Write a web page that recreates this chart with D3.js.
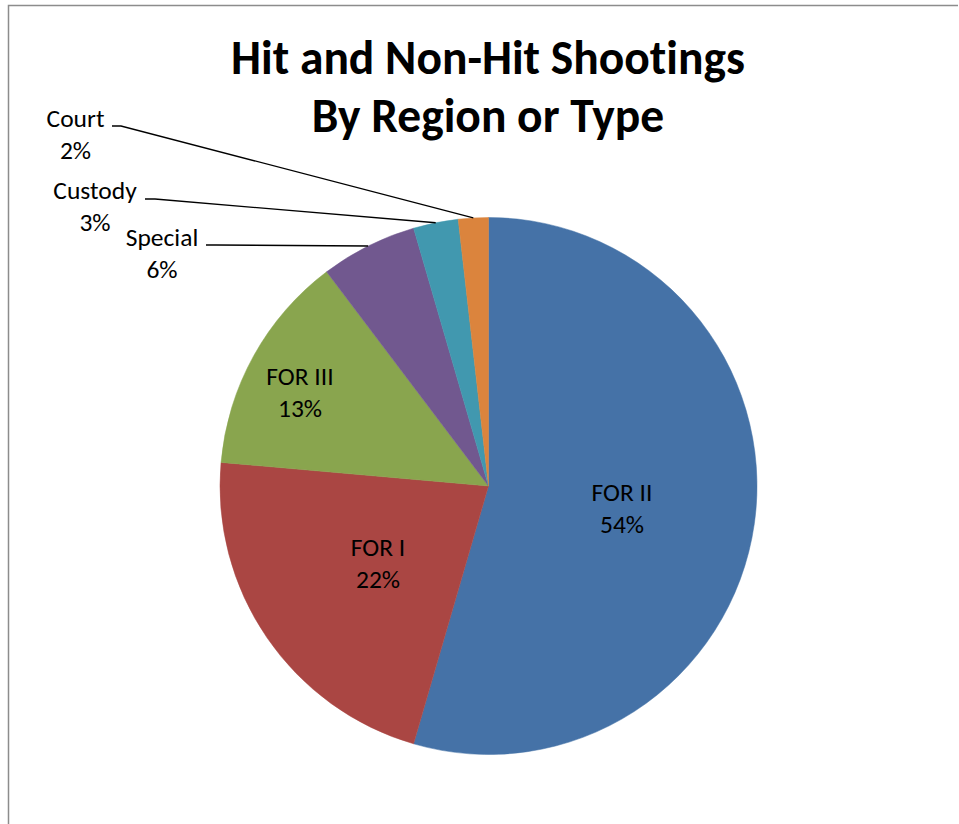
<!DOCTYPE html>
<html>
<head>
<meta charset="utf-8">
<script src="https://cdn.jsdelivr.net/npm/d3@7"></script>
<style>
html,body{margin:0;padding:0;background:#fff;}
svg{display:block;}
text{font-variant-ligatures:none;font-feature-settings:"liga" 0;}
</style>
</head>
<body>
<svg id="chart" width="959" height="824"></svg>
<script>
const categories = ["FOR II", "FOR I", "FOR III", "Special", "Custody", "Court"];
const values = [54.5, 21.9, 13.3, 5.8, 2.7, 1.8];
const pctLabels = ["54%", "22%", "13%", "6%", "3%", "2%"];
const colors = ["#4572A7", "#AA4643", "#89A54E", "#71588F", "#4198AF", "#DB843D"];
const titleLines = ["Hit and Non-Hit Shootings", "By Region or Type"];

const svg = d3.select("#chart");
const font = "Carlito, Calibri, Lato, 'Open Sans', sans-serif";

// frame
svg.append("path")
  .attr("d", "M8.5,824 L8.5,5.5 L958,5.5")
  .attr("fill", "none").attr("stroke", "#8c8c8c").attr("stroke-width", 1.5);

// title
svg.append("text").attr("x", 488).attr("y", 74)
  .attr("text-anchor", "middle").attr("font-family", font)
  .attr("font-weight", "bold").attr("font-size", 47.5).text(titleLines[0]);
svg.append("text").attr("x", 488).attr("y", 132)
  .attr("text-anchor", "middle").attr("font-family", font)
  .attr("font-weight", "bold").attr("font-size", 47.5).text(titleLines[1]);

const cx = 488.5, cy = 486, r = 268.5;
const g = svg.append("g").attr("transform", `translate(${cx},${cy})`);

const pie = d3.pie().sort(null).value(d => d.v);
const data = categories.map((c, i) => ({c, v: values[i], p: pctLabels[i], col: colors[i]}));
const arcs = pie(data);
const arc = d3.arc().innerRadius(0).outerRadius(r);

g.selectAll("path.slice").data(arcs).enter().append("path")
  .attr("class", "slice")
  .attr("d", arc)
  .attr("fill", d => d.data.col)
  .attr("stroke", d => d.data.col).attr("stroke-width", 0.5);

// inside labels
const inside = {"FOR II": [622, 492], "FOR I": [378, 547], "FOR III": [300, 376]};
// outside labels: text center x, first line center y, leader start
const outside = {
  "Court": {x: 75.5, y: 118, lx: 112, ly: 126, hx: 121},
  "Custody": {x: 95, y: 190, lx: 145, ly: 199, hx: 155},
  "Special": {x: 162, y: 237, lx: 206, ly: 245, hx: 216}
};

function label(x, y, name, pct) {
  const t = svg.append("text").attr("text-anchor", "middle")
    .attr("font-family", font).attr("font-size", 25.5).attr("fill", "#000");
  t.append("tspan").attr("x", x).attr("y", y).attr("dy", "0.35em").text(name);
  t.append("tspan").attr("x", x).attr("y", y + 32).attr("dy", "0.35em").text(pct);
}

arcs.forEach(a => {
  const name = a.data.c;
  if (inside[name]) {
    const [x, y] = inside[name];
    label(x, y, name, a.data.p);
  } else {
    const o = outside[name];
    label(o.x, o.y, name, a.data.p);
    const mid = (a.startAngle + a.endAngle) / 2;
    const ex = cx + r * Math.sin(mid), ey = cy - r * Math.cos(mid);
    svg.append("path")
      .attr("d", `M${o.lx},${o.ly} L${o.hx},${o.ly} L${ex},${ey}`)
      .attr("fill", "none").attr("stroke", "#000").attr("stroke-width", 1.3);
  }
});
</script>
</body>
</html>
